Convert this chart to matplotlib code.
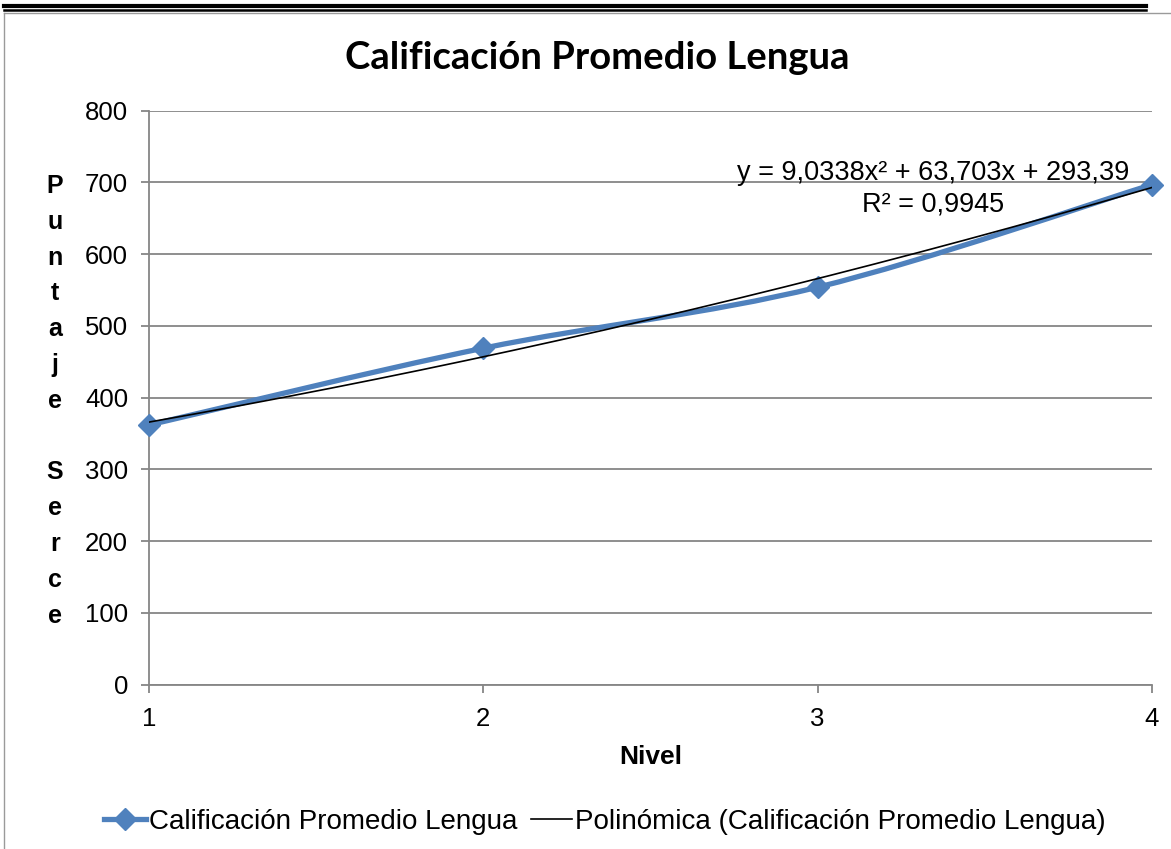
import matplotlib
matplotlib.use("Agg")
import matplotlib.pyplot as plt
from matplotlib.path import Path
from matplotlib.patches import PathPatch
from matplotlib.lines import Line2D
import numpy as np

niveles = [1, 2, 3, 4]
puntaje = [362, 469, 554, 697]
yticks = [0, 100, 200, 300, 400, 500, 600, 700, 800]
serie = "Calificación Promedio Lengua"
tendencia = "Polinómica (Calificación Promedio Lengua)"
ecuacion = "y = 9,0338x² + 63,703x + 293,39"
r2 = "R² = 0,9945"
ylabel_chars = list("Puntaje") + [""] + list("Serce")

blue = "#4F81BD"
grid = "#868686"
plt.rcParams["font.family"] = ["Liberation Sans", "DejaVu Sans"]

fig = plt.figure(figsize=(11.71, 8.49), dpi=100)
ax = fig.add_axes([149 / 1171, 1 - 684.7 / 849, 1003 / 1171, 574 / 849])

# smoothed series line (Excel-style bezier through the points)
pts = np.column_stack([niveles, puntaje]).astype(float)
verts = [tuple(pts[0])]
codes = [Path.MOVETO]
for i in range(len(pts) - 1):
    p0 = pts[i - 1] if i > 0 else pts[i]
    p1, p2 = pts[i], pts[i + 1]
    p3 = pts[i + 2] if i + 2 < len(pts) else pts[i + 1]
    verts += [tuple(p1 + (p2 - p0) / 6), tuple(p2 - (p3 - p1) / 6), tuple(p2)]
    codes += [Path.CURVE4] * 3
ax.add_patch(PathPatch(Path(verts, codes), facecolor="none", edgecolor=blue,
                       lw=3.8, capstyle="round", joinstyle="round", zorder=3))
ax.plot(niveles, puntaje, linestyle="none", marker="D", markersize=11,
        color=blue, zorder=4, clip_on=False)

# polynomial trendline fitted to the data
coef = np.polyfit(niveles, puntaje, 2)
xs = np.linspace(niveles[0], niveles[-1], 200)
ax.plot(xs, np.polyval(coef, xs), color="black", lw=1.2, zorder=5)

ax.set_xlim(1, 4)
ax.set_ylim(0, 800)
ax.set_yticks(yticks)
ax.set_xticks(niveles)
ax.yaxis.grid(True, color=grid, lw=1.3)
ax.set_axisbelow(True)
for s in ["top", "right"]:
    ax.spines[s].set_visible(False)
ax.spines["left"].set_color(grid)
ax.spines["bottom"].set_color(grid)
ax.spines["left"].set_linewidth(1.3)
ax.spines["bottom"].set_linewidth(1.3)
ax.tick_params(axis="both", colors=grid, width=1.3, length=6, labelsize=18.5,
               labelcolor="black")
ax.tick_params(axis="y", pad=9)
ax.tick_params(axis="x", pad=10)

ax.text(0.782, 0.892, ecuacion, transform=ax.transAxes, ha="center",
        va="center", fontsize=19.5)
ax.text(0.782, 0.836, r2, transform=ax.transAxes, ha="center",
        va="center", fontsize=19.5)

fig.text(597 / 1171, 1 - 58 / 849, serie, ha="center", va="center",
         fontsize=27.5, fontweight="bold", family=["Lato", "DejaVu Sans"])
fig.text(651 / 1171, 1 - 757 / 849, "Nivel", ha="center", va="center",
         fontsize=19, fontweight="bold")
for i, ch in enumerate(ylabel_chars):
    fig.text(55 / 1171, 1 - (186 + i * 35.8) / 849, ch, ha="center",
             va="center", fontsize=18, fontweight="bold")

handles = [Line2D([], [], color=blue, lw=3.8, marker="D", markersize=11),
           Line2D([], [], color="black", lw=1.2)]
fig.legend(handles, [serie, tendencia], loc="center", ncol=2,
           bbox_to_anchor=(605 / 1171, 1 - 822 / 849), frameon=False,
           fontsize=20, handlelength=1.5, handletextpad=0.1,
           columnspacing=0.5)

# page borders
fig.add_artist(Line2D([4 / 1171, 1146 / 1171], [1 - 6 / 849] * 2, color="black", lw=3))
fig.add_artist(Line2D([4 / 1171, 1146 / 1171], [1 - 10 / 849] * 2, color="black", lw=1.8))
fig.add_artist(Line2D([4 / 1171, 1], [1 - 13 / 849] * 2, color="#9a9a9a", lw=1))
fig.add_artist(Line2D([4 / 1171] * 2, [0, 1 - 13 / 849], color="#9a9a9a", lw=1))

fig.savefig("out.png", dpi=100)
